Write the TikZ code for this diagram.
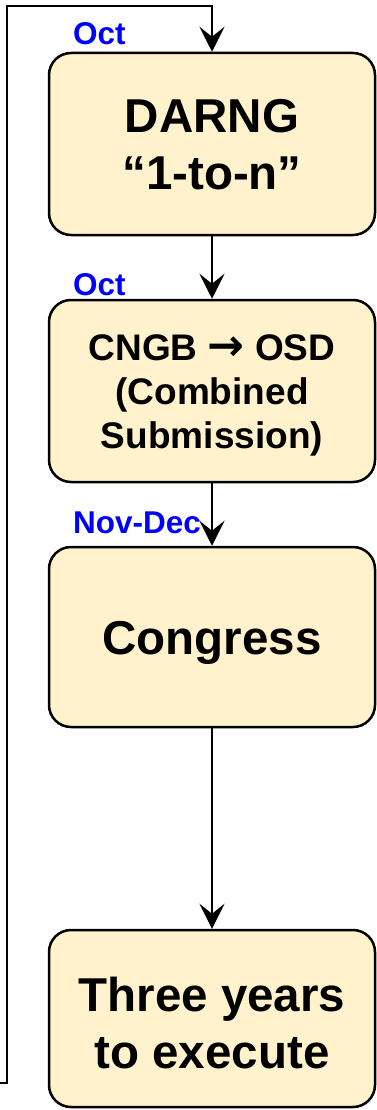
\documentclass[tikz,border=0pt]{standalone}
\usepackage{fontspec}
\setmainfont{Liberation Sans}
\newfontfamily\arrowfont{DejaVu Sans}
\usetikzlibrary{arrows.meta}
\definecolor{boxfill}{HTML}{FFF2CC}
\definecolor{lblblue}{HTML}{0000FF}
\tikzset{
  stagebox/.style={draw=black, line width=2.5pt, fill=boxfill, rounded corners=22pt,
    minimum width=326pt, inner sep=0pt, align=center, text=black, text depth=0pt},
  bigtext/.style={font=\bfseries\fontsize{47.5}{57}\selectfont},
  midtext/.style={font=\bfseries\fontsize{37}{44}\selectfont},
  flow/.style={draw=black, line width=2pt, -{Stealth[length=25pt,width=25pt,inset=10pt]}},
  monthlbl/.style={anchor=base west, inner sep=0pt, text=lblblue, font=\bfseries\fontsize{31.5}{36}\selectfont}
}
\begin{document}
\begin{tikzpicture}[x=1pt,y=-1pt]
\useasboundingbox (0,0) rectangle (376,1110);
\node[stagebox, bigtext, text height=91pt, minimum height=182pt] (b1) at (212,144) {DARNG\\“1-to-n”};
\node[stagebox, midtext, text height=114.5pt, minimum height=182pt] (b2) at (212,391) {CNGB {\arrowfont\bfseries\fontsize{44}{44}\selectfont →} OSD\\(Combined\\Submission)};
\node[stagebox, bigtext, text height=34pt, minimum height=180pt] (b3) at (212,637) {Congress};
\node[stagebox, bigtext, text height=100pt, minimum height=177pt] (b4) at (212,1018.5) {Three years\\to execute};
\node[monthlbl] (m1) at (73,45) {Oct};
\node[monthlbl] (m2) at (73,295) {Oct};
\node[monthlbl] (m3) at (73,533) {Nov-Dec};
\coordinate (l0) at (0,1083);
\coordinate (l1) at (7,1083);
\coordinate (l2) at (7,6);
\coordinate (l3) at (212,6);
\draw[flow] (l0) -- (l1) -- (l2) -- (l3) -- (b1.north);
\draw[flow] (b1.south) -- (b2.north);
\draw[flow] (b2.south) -- (b3.north);
\draw[flow] (b3.south) -- (b4.north);
\end{tikzpicture}
\end{document}
